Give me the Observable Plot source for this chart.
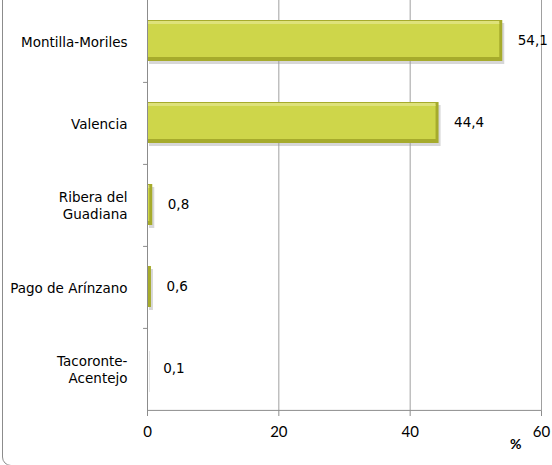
<!DOCTYPE html>
<html>
<head>
<meta charset="utf-8">
<script src="https://cdn.jsdelivr.net/npm/d3@7"></script>
<script src="https://cdn.jsdelivr.net/npm/@observablehq/plot@0.6"></script>
<style>
  html, body { margin: 0; padding: 0; background: #fff; overflow: hidden; }
  #wrap { position: relative; width: 552px; height: 465px; overflow: hidden; }
  #frame { position: absolute; left: 2px; top: -20px; width: 600px; height: 486px;
           border: 1px solid #8c8c8c; border-radius: 9px; box-sizing: border-box; }
  #chart { position: absolute; left: 0; top: 0; }
</style>
</head>
<body>
<div id="wrap"><div id="frame"></div><div id="chart"></div></div>
<script>
const categories = ["Montilla-Moriles", "Valencia", "Ribera del\nGuadiana", "Pago de Arínzano", "Tacoronte-\nAcentejo"];
const values = [54.1, 44.4, 0.8, 0.6, 0.1];
const xTicks = [0, 20, 40, 60];
const axisUnit = "%";

const data = categories.map((c, i) => ({cat: c, value: values[i]}));
const fmt = v => d3.format(".1f")(v).replace(".", ",");
const labelFont = "DejaVu Sans, Tahoma, sans-serif";
const tickFont = "Lato, Calibri, sans-serif";
const half = 41.4;

const chart = Plot.plot({
  width: 552,
  height: 465,
  marginLeft: 147,
  marginRight: 11,
  marginTop: 0,
  marginBottom: 54,
  x: {domain: [0, 60], axis: null},
  y: {domain: categories, range: [-3, 411], paddingInner: 0.5, paddingOuter: 0.25, axis: null},
  marks: [
    Plot.gridX([20, 40, 60], {stroke: "#a0a0a0", strokeOpacity: 1}),
    // bar shadow
    Plot.barX(data, {x: "value", y: "cat", fill: "#9a9a9a", fillOpacity: 0.4, dx: 2, dy: 3}),
    // bar edge
    Plot.barX(data, {x: "value", y: "cat", fill: "#a6ab2c"}),
    // bar face
    Plot.barX(data, {x: "value", y: "cat", fill: "#ced64a", insetTop: 3, insetBottom: 4, insetLeft: 1, insetRight: 3}),
    // top highlight
    Plot.barX(data, {x: "value", y: "cat", fill: "#dee27a", insetTop: 1, insetBottom: 37, insetLeft: 1, insetRight: 3}),
    // axis lines
    Plot.ruleX([0], {stroke: "#8c8c8c"}),
    Plot.ruleY(categories.slice(0, 4), {y: d => d, x1: -0.6, x2: 0, dy: half, stroke: "#8c8c8c"}),
    Plot.ruleY(categories.slice(4), {y: d => d, x1: 0, x2: 60, dy: half, stroke: "#8c8c8c"}),
    Plot.axisX(xTicks, {anchor: "bottom", tickSize: 5, tickPadding: 10, stroke: "#8c8c8c",
      fontSize: 15, fontFamily: tickFont, fill: "#000", label: null}),
    Plot.text([axisUnit], {frameAnchor: "bottom-right", dx: -20, dy: 37, fontSize: 14,
      fontFamily: tickFont, fontWeight: "bold", fill: "#000"}),
    // category labels
    Plot.text(categories, {x: 0, y: d => d, dx: -20, textAnchor: "end", fontSize: 13.5,
      lineHeight: 1.3, fontFamily: labelFont, fill: "#000"}),
    // value labels
    Plot.text(data, {x: "value", y: "cat", text: d => fmt(d.value), dx: 15, textAnchor: "start",
      fontSize: 13.5, fontFamily: labelFont, fill: "#000"})
  ]
});
document.getElementById("chart").append(chart);
</script>
</body>
</html>
